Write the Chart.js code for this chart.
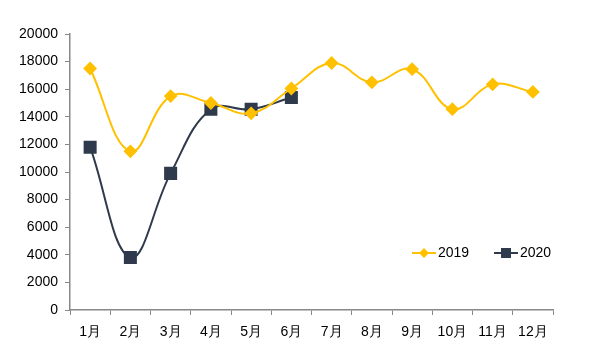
<!DOCTYPE html>
<html><head><meta charset="utf-8">
<script src="https://cdn.jsdelivr.net/npm/chart.js@4/dist/chart.umd.min.js"></script>
<style>html,body{margin:0;padding:0;background:#fff;}#wrap{width:609px;height:359px;position:relative;}</style>
</head><body><div id="wrap"><canvas id="c" width="609" height="359"></canvas></div>
<script>
const categories = ['1月','2月','3月','4月','5月','6月','7月','8月','9月','10月','11月','12月'];
const series2019 = [17500, 11500, 15500, 15000, 14250, 16050, 17900, 16500, 17450, 14550, 16350, 15800];
const series2020 = [11800, 3800, 9900, 14550, 14550, 15400, null, null, null, null, null, null];
const yTicks = [0, 2000, 4000, 6000, 8000, 10000, 12000, 14000, 16000, 18000, 20000];
const seriesNames = ['2019', '2020'];
const colors = ['#FFC000', '#2F3B4C'];
const FONT = '"Liberation Sans", Arial, sans-serif';

const legendPlugin = {
  id: 'customLegend',
  afterDraw(chart) {
    const ctx = chart.ctx;
    const y = 253;
    const items = [
      {x: 412, name: seriesNames[0], color: colors[0], style: 'diamond'},
      {x: 494, name: seriesNames[1], color: colors[1], style: 'square'}
    ];
    ctx.save();
    items.forEach(it => {
      ctx.strokeStyle = it.color; ctx.lineWidth = 2;
      ctx.beginPath(); ctx.moveTo(it.x, y); ctx.lineTo(it.x + 24, y); ctx.stroke();
      ctx.fillStyle = it.color;
      const cx = it.x + 12;
      ctx.beginPath();
      if (it.style === 'diamond') {
        ctx.moveTo(cx, y - 5); ctx.lineTo(cx + 5, y); ctx.lineTo(cx, y + 5); ctx.lineTo(cx - 5, y); ctx.closePath();
      } else {
        ctx.rect(cx - 5, y - 5, 10, 10);
      }
      ctx.fill();
      ctx.fillStyle = '#000';
      ctx.font = '14px ' + FONT;
      ctx.textBaseline = 'middle'; ctx.textAlign = 'left';
      ctx.fillText(it.name, it.x + 26, y);
    });
    ctx.restore();
  }
};

new Chart(document.getElementById('c'), {
  type: 'line',
  data: {
    labels: categories,
    datasets: [
      {label: seriesNames[0], data: series2019, borderColor: colors[0], backgroundColor: colors[0],
       borderWidth: 2, pointStyle: 'rectRot', pointRadius: 5.5, pointHoverRadius: 5.5, tension: 0.4, fill: false},
      {label: seriesNames[1], data: series2020, borderColor: colors[1], backgroundColor: colors[1],
       borderWidth: 2, pointStyle: 'rect', pointRadius: 7.8, pointHoverRadius: 7.8, tension: 0.4, fill: false}
    ]
  },
  options: {
    responsive: false, animation: false,
    layout: {padding: {left: 0, right: 56, top: 34, bottom: 0}},
    plugins: {legend: {display: false}, tooltip: {enabled: false}},
    scales: {
      x: {
        offset: true,
        grid: {display: true, drawOnChartArea: false, drawTicks: true, tickLength: 5, color: '#888', offset: true},
        border: {display: true, color: '#888', width: 1.5},
        ticks: {color: '#000', font: {family: FONT, size: 14}, padding: 9, maxRotation: 0, autoSkip: false},
        afterFit(s) { s.height = 49; }
      },
      y: {
        min: 0, max: 20000,
        afterBuildTicks(s) { s.ticks = yTicks.map(v => ({value: v})); },
        grid: {display: true, drawOnChartArea: false, drawTicks: true, tickLength: 5, color: '#888'},
        border: {display: true, color: '#888', width: 1.5},
        ticks: {color: '#000', font: {family: FONT, size: 14}, padding: 7, callback: v => String(v)},
        afterFit(s) { s.width = 70; }
      }
    }
  },
  plugins: [legendPlugin]
});
</script></body></html>
